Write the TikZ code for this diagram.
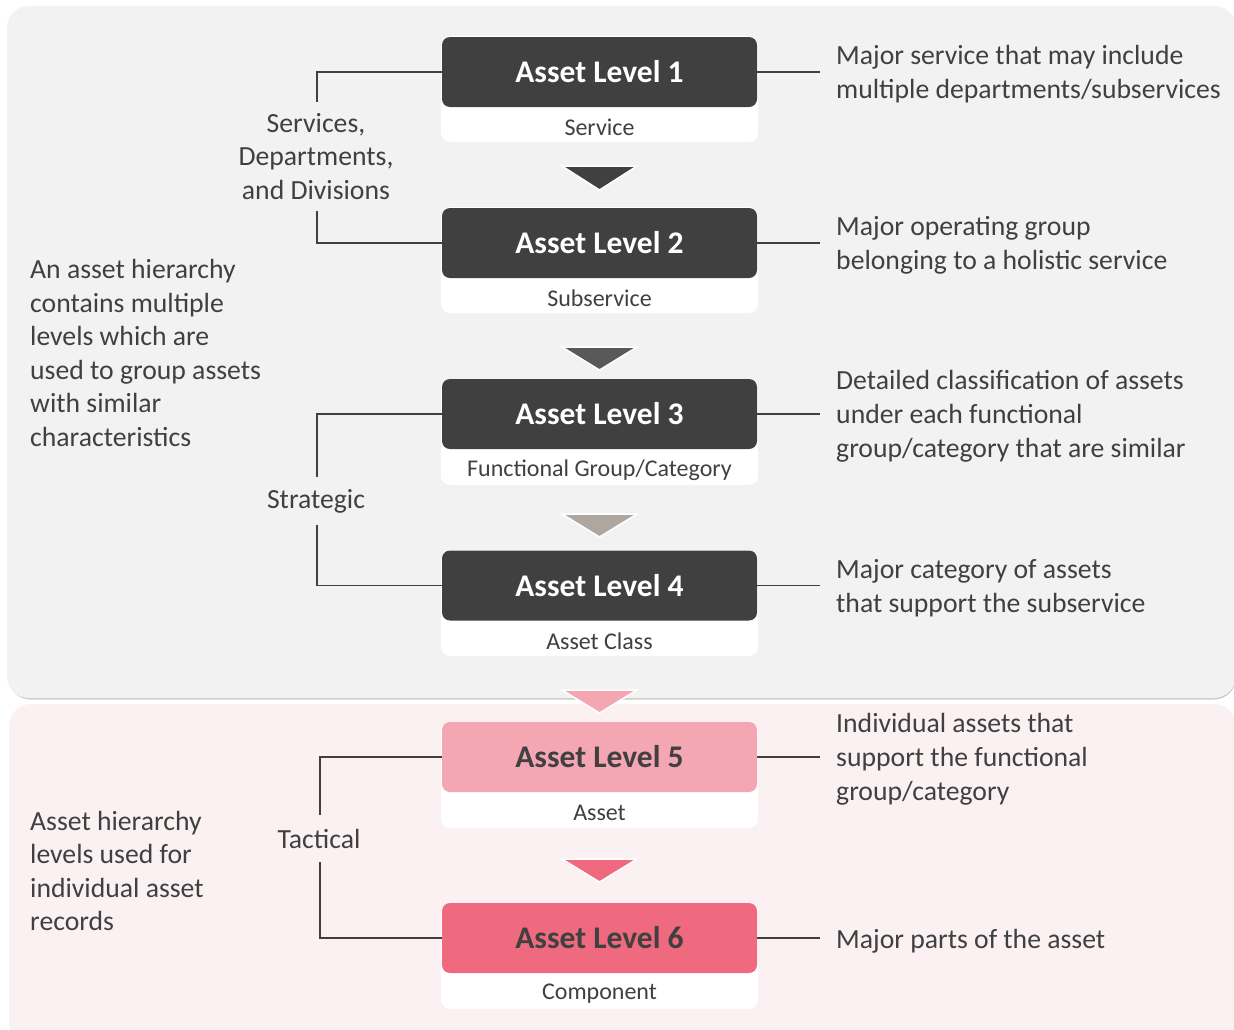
\documentclass[tikz,border=0pt]{standalone}
\usepackage{fontspec}
\setmainfont{Carlito}
\usetikzlibrary{calc}
\definecolor{txt}{HTML}{404040}
\definecolor{dark}{HTML}{404040}
\definecolor{panelgray}{HTML}{F2F2F2}
\definecolor{panelpink}{HTML}{FBF0F2}
\definecolor{shadowgray}{HTML}{CACACA}
\definecolor{tritwo}{HTML}{595959}
\definecolor{trithree}{HTML}{AEA79F}
\definecolor{pinklight}{HTML}{F4A7B3}
\definecolor{pinkdark}{HTML}{EF6A7E}
\begin{document}
\begin{tikzpicture}[x=1pt,y=-1pt,
  lvlbox/.style={rounded corners=8pt, minimum width=315pt, minimum height=70pt, inner sep=0pt,
    font=\fontsize{31.5}{37}\selectfont\bfseries, text=white, fill=dark},
  subbox/.style={fill=white, rounded corners=9pt, minimum width=317pt, minimum height=106pt, inner sep=0pt},
  sublabel/.style={font=\fontsize{24}{28}\selectfont, text=txt, inner sep=0pt},
  desc/.style={font=\fontsize{27.7}{33.8}\selectfont, text=txt, align=left, anchor=west, inner xsep=16pt, inner ysep=0pt},
  sidetext/.style={font=\fontsize{27.7}{33.6}\selectfont, text=txt, align=left, anchor=west, inner sep=0pt},
  brlabel/.style={font=\fontsize{27.7}{33.6}\selectfont, text=txt, align=center, inner sep=0pt},
  conn/.style={draw=txt, line width=1.2pt},
  tri/.style={draw=white, line width=1.5pt, line join=miter}
]
\useasboundingbox (0,0) rectangle (1234,1029);
\clip (0,0) rectangle (1234,1029);

% panels
\fill[shadowgray, rounded corners=22pt] (8.5,7.5) rectangle (1236,699.5);
\fill[panelgray, rounded corners=22pt] (7,6) rectangle (1236,698);
\fill[panelpink, rounded corners=22pt] (9,704) rectangle (1236,1045);

% level boxes
\node[subbox] (b1) at (599.5,89) {};
\node[subbox] (b2) at (599.5,260) {};
\node[subbox] (b3) at (599.5,432) {};
\node[subbox] (b4) at (599.5,603) {};
\node[subbox] (b5) at (599.5,775) {};
\node[subbox] (b6) at (599.5,956) {};

\node[lvlbox] (l1) at (599.5,72) {Asset Level 1};
\node[lvlbox] (l2) at (599.5,243) {Asset Level 2};
\node[lvlbox] (l3) at (599.5,414) {Asset Level 3};
\node[lvlbox] (l4) at (599.5,585.5) {Asset Level 4};
\node[lvlbox, fill=pinklight, text=txt] (l5) at (599.5,757) {Asset Level 5};
\node[lvlbox, fill=pinkdark, text=txt] (l6) at (599.5,938) {Asset Level 6};

\node[sublabel] (s1) at (599.5,127) {Service};
\node[sublabel] (s2) at (599.5,298) {Subservice};
\node[sublabel] (s3) at (599.5,470) {Functional Group/Category};
\node[sublabel] (s4) at (599.5,641) {Asset Class};
\node[sublabel] (s5) at (599.5,813) {Asset};
\node[sublabel] (s6) at (599.5,994) {Component};

% triangles
\filldraw[tri, fill=dark] (562,166) -- (637,166) -- (599.5,190) -- cycle;
\filldraw[tri, fill=tritwo] (562,347) -- (637,347) -- (599.5,370) -- cycle;
\filldraw[tri, fill=trithree] (562,514) -- (637,514) -- (599.5,537) -- cycle;
\filldraw[tri, fill=pinklight] (562,690) -- (637,690) -- (599.5,713) -- cycle;
\filldraw[tri, fill=pinkdark] (562,859) -- (637,859) -- (599.5,882) -- cycle;

% bracket labels
\node[brlabel, minimum height=107pt] (g1) at (316,156.5) {Services,\\Departments,\\and Divisions};
\node[brlabel, minimum height=45pt] (g2) at (316,501) {Strategic};
\node[brlabel, minimum height=45pt] (g3) at (319,838.5) {Tactical};

\draw[conn] (l1.west) -| ($(g1.north)+(1,-1)$);
\draw[conn] (l2.west) -| ($(g1.south)+(1,1)$);
\draw[conn] (l3.west) -| ($(g2.north)+(1,-1.5)$);
\draw[conn] (l4.west) -| ($(g2.south)+(1,1.5)$);
\draw[conn] (l5.west) -| ($(g3.north)+(1,-1)$);
\draw[conn] (l6.west) -| ($(g3.south)+(1,1)$);

% right descriptions
\node[desc] (d1) at (820,74) {Major service that may include\\multiple departments/subservices};
\node[desc] (d2) at (820,245) {Major operating group\\belonging to a holistic service};
\node[desc] (d3) at (820,416) {Detailed classification of assets\\under each functional\\group/category that are similar};
\node[desc] (d4) at (820,588) {Major category of assets\\that support the subservice};
\node[desc] (d5) at (820,759) {Individual assets that\\support the functional\\group/category};
\node[desc] (d6) at (820,941) {Major parts of the asset};

\draw[conn] (l1.east) -- (l1.east -| d1.west);
\draw[conn] (l2.east) -- (l2.east -| d2.west);
\draw[conn] (l3.east) -- (l3.east -| d3.west);
\draw[conn] (l4.east) -- (l4.east -| d4.west);
\draw[conn] (l5.east) -- (l5.east -| d5.west);
\draw[conn] (l6.east) -- (l6.east -| d6.west);

% side texts
\node[sidetext] (t1) at (30,353) {An asset hierarchy\\contains multiple\\levels which are\\used to group assets\\with similar\\characteristics};
\node[sidetext] (t2) at (30,871) {Asset hierarchy\\levels used for\\individual asset\\records};
\end{tikzpicture}
\end{document}
